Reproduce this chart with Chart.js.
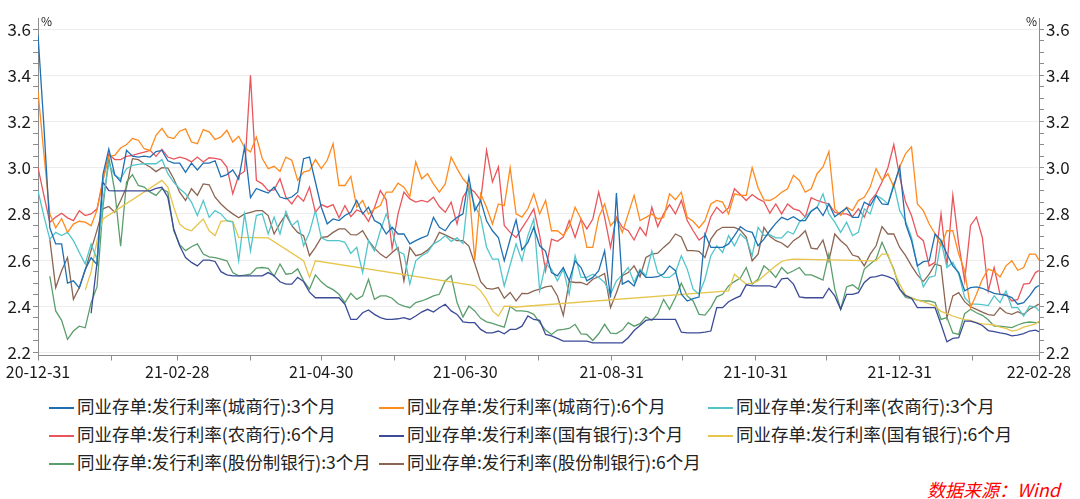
<!DOCTYPE html>
<html>
<head>
<meta charset="utf-8">
<script src="https://cdn.jsdelivr.net/npm/chart.js@4.4.1/dist/chart.umd.min.js"></script>
<style>
html, body { margin: 0; padding: 0; background: #fff; }
#wrap { position: relative; width: 1080px; height: 499px; font-family: "Noto Sans CJK SC", sans-serif; }
#chart-box { position: absolute; left: 0; top: 0; width: 1080px; height: 392px; }
.item { position: absolute; height: 22px; line-height: 22px; font-size: 17.5px; color: #222; white-space: nowrap; }
.item i { display: inline-block; width: 25px; height: 2px; vertical-align: middle; margin-right: 3px; }
#source { position: absolute; left: 927px; top: 477px; color: #f00; font-style: italic; font-size: 18px; line-height: 24px; }
</style>
</head>
<body>
<div id="wrap">
  <div id="chart-box"><canvas id="rateChart"></canvas></div>
  <div id="legend"></div>
  <div id="source">数据来源：Wind</div>
</div>
<script>
'use strict';

// day offsets from 2020-12-31
var days = [
    0, 2.5, 5, 7.5, 10, 12.5, 15, 17.5, 20, 22.5, 25, 27.5, 30, 32.5, 35, 37.5, 40, 42.5, 45, 47.5,
    50, 52.5, 55, 57.5, 60, 62.5, 65, 67.5, 70, 72.5, 75, 77.5, 80, 82.5, 85, 87.5, 90, 92.5, 95, 97.5,
    100, 102.5, 105, 107.5, 110, 112.5, 115, 117.5, 120, 122.5, 125, 127.5, 130, 132.5, 135, 137.5, 140, 142.5, 145, 147.5,
    150, 152.5, 155, 157.5, 160, 162.5, 165, 167.5, 170, 172.5, 175, 177.5, 180, 182.5, 185, 187.5, 190, 192.5, 195, 197.5,
    200, 202.5, 205, 207.5, 210, 212.5, 215, 217.5, 220, 222.5, 225, 227.5, 230, 232.5, 235, 237.5, 240, 242.5, 245, 247.5,
    250, 252.5, 255, 257.5, 260, 262.5, 265, 267.5, 270, 272.5, 275, 277.5, 280, 282.5, 285, 287.5, 290, 292.5, 295, 297.5,
    300, 302.5, 305, 307.5, 310, 312.5, 315, 317.5, 320, 322.5, 325, 327.5, 330, 332.5, 335, 337.5, 340, 342.5, 345, 347.5,
    350, 352.5, 355, 357.5, 360, 362.5, 365, 367.5, 370, 372.5, 375, 377.5, 380, 382.5, 385, 387.5, 390, 392.5, 395, 397.5,
    400, 402.5, 405, 407.5, 410, 412.5, 415, 417.5, 420, 422.5, 424];

var cityBank3M = [
    3.575, 3.18, 2.74, 2.67, 2.67, 2.50, 2.51, 2.48, 2.56, 2.61, 2.58, 2.97, 3.08, 2.97, 2.94, 3.075, 3.05, 3.046, 3.05, 3.046,
    3.07, 3.075, 3.03, 3.02, 3.02, 2.98, 3.02, 2.99, 3.02, 3.02, 3.03, 2.96, 2.97, 2.99, 2.95, 3.09, 2.87, 2.91, 2.90, 2.89,
    2.916, 2.873, 2.865, 2.873, 2.894, 3.039, 3.046, 2.938, 2.829, 2.757, 2.778, 2.771, 2.793, 2.807, 2.858, 2.80, 2.829, 2.771, 2.757, 2.713,
    2.742, 2.713, 2.713, 2.67, 2.684, 2.696, 2.706, 2.785, 2.742, 2.727, 2.764, 2.785, 2.80, 2.96, 2.814, 2.858, 2.77, 2.727, 2.698, 2.597,
    2.69, 2.774, 2.644, 2.677, 2.742, 2.662, 2.638, 2.546, 2.532, 2.568, 2.51, 2.597, 2.568, 2.51, 2.525, 2.554, 2.64, 2.438, 2.89, 2.496,
    2.51, 2.488, 2.554, 2.525, 2.525, 2.528, 2.54, 2.575, 2.554, 2.452, 2.423, 2.433, 2.44, 2.713, 2.655, 2.655, 2.655, 2.67, 2.706, 2.745,
    2.727, 2.72, 2.662, 2.691, 2.727, 2.759, 2.785, 2.774, 2.788, 2.771, 2.771, 2.811, 2.829, 2.793, 2.843, 2.788, 2.807, 2.826, 2.785, 2.785,
    2.851, 2.836, 2.88, 2.843, 2.84, 2.923, 3.003, 2.757, 2.684, 2.575, 2.593, 2.597, 2.713, 2.684, 2.626, 2.575, 2.546, 2.467, 2.481, 2.484,
    2.478, 2.467, 2.456, 2.452, 2.447, 2.438, 2.409, 2.416, 2.445, 2.481, 2.49];

var cityBank6M = [
    3.33, 3.06, 2.80, 2.74, 2.78, 2.72, 2.756, 2.768, 2.764, 2.749, 2.817, 2.945, 3.05, 3.053, 3.085, 3.10, 3.126, 3.119, 3.082, 3.075,
    3.14, 3.17, 3.133, 3.126, 3.158, 3.168, 3.111, 3.104, 3.165, 3.155, 3.122, 3.133, 3.162, 3.111, 3.136, 3.087, 3.068, 3.133, 3.04, 2.996,
    3.006, 2.984, 3.046, 3.032, 2.945, 2.981, 2.988, 3.035, 2.996, 3.032, 3.104, 2.923, 2.923, 2.962, 2.829, 2.858, 2.80, 2.822, 2.836, 2.894,
    2.894, 2.933, 2.916, 2.875, 3.025, 2.952, 2.974, 2.93, 2.894, 2.93, 3.046, 2.996, 2.952, 2.923, 2.60, 2.887, 2.829, 2.756, 2.843, 2.836,
    3.00, 2.80, 2.786, 2.822, 2.887, 2.80, 2.858, 2.727, 2.727, 2.706, 2.745, 2.829, 2.778, 2.655, 2.655, 2.785, 2.843, 2.749, 2.778, 2.72,
    2.80, 2.88, 2.771, 2.785, 2.80, 2.778, 2.785, 2.887, 2.861, 2.894, 2.785, 2.768, 2.739, 2.771, 2.843, 2.858, 2.851, 2.80, 2.887, 2.88,
    2.88, 3.00, 2.913, 2.861, 2.858, 2.872, 2.894, 2.909, 2.967, 2.945, 2.894, 2.909, 2.974, 3.003, 3.07, 2.822, 2.793, 2.829, 2.814, 2.858,
    2.872, 2.916, 2.996, 2.945, 2.974, 2.916, 3.003, 3.061, 3.09, 2.843, 2.814, 2.756, 2.713, 2.662, 2.727, 2.727, 2.626, 2.553, 2.394, 2.452,
    2.517, 2.561, 2.551, 2.527, 2.575, 2.597, 2.556, 2.568, 2.626, 2.626, 2.60];

var ruralBank3M = [
    2.90, 2.79, 2.691, 2.72, 2.706, 2.72, 2.684, 2.633, 2.583, 2.67, 2.604, 2.858, 3.017, 2.967, 2.952, 2.996, 3.01, 3.014, 3.017, 3.017,
    3.017, 3.035, 2.974, 2.937, 2.909, 2.887, 2.851, 2.793, 2.858, 2.785, 2.814, 2.80, 2.771, 2.764, 2.597, 2.80, 2.64, 2.793, 2.80, 2.713,
    2.786, 2.713, 2.811, 2.749, 2.771, 2.662, 2.72, 2.814, 2.696, 2.684, 2.684, 2.684, 2.677, 2.629, 2.655, 2.546, 2.684, 2.64, 2.727, 2.80,
    2.727, 2.638, 2.626, 2.496, 2.597, 2.619, 2.633, 2.67, 2.684, 2.706, 2.681, 2.696, 2.672, 2.916, 2.836, 2.786, 2.655, 2.604, 2.604, 2.488,
    2.58, 2.67, 2.597, 2.706, 2.778, 2.467, 2.583, 2.561, 2.51, 2.561, 2.452, 2.619, 2.525, 2.525, 2.539, 2.525, 2.503, 2.452, 2.51, 2.536,
    2.568, 2.503, 2.561, 2.532, 2.64, 2.546, 2.525, 2.525, 2.546, 2.619, 2.561, 2.474, 2.452, 2.517, 2.619, 2.662, 2.633, 2.706, 2.662, 2.713,
    2.69, 2.619, 2.742, 2.706, 2.71, 2.696, 2.696, 2.724, 2.713, 2.764, 2.786, 2.814, 2.829, 2.887, 2.80, 2.764, 2.72, 2.764, 2.706, 2.72,
    2.822, 2.80, 2.88, 2.865, 2.843, 2.93, 2.814, 2.768, 2.698, 2.575, 2.484, 2.525, 2.532, 2.684, 2.568, 2.59, 2.539, 2.438, 2.409, 2.409,
    2.407, 2.403, 2.445, 2.416, 2.467, 2.394, 2.394, 2.358, 2.401, 2.397, 2.38];

var ruralBank6M = [
    3.00, 2.88, 2.764, 2.786, 2.803, 2.783, 2.771, 2.814, 2.793, 2.80, 2.822, 2.945, 3.058, 3.035, 3.035, 3.049, 3.053, 3.061, 3.067, 3.075,
    3.049, 3.08, 3.046, 3.037, 3.046, 3.039, 3.025, 3.046, 3.025, 3.043, 3.04, 3.035, 3.003, 2.887, 2.967, 2.985, 3.40, 2.945, 2.93, 2.901,
    2.904, 2.952, 2.872, 2.843, 2.88, 2.855, 2.916, 2.807, 2.84, 2.829, 2.84, 2.783, 2.836, 2.788, 2.817, 2.807, 2.768, 2.826, 2.901, 2.861,
    2.65, 2.80, 2.894, 2.865, 2.851, 2.858, 2.851, 2.872, 2.832, 2.807, 2.851, 2.756, 2.872, 2.913, 2.894, 2.858, 3.075, 2.938, 3.003, 2.75,
    2.72, 2.698, 2.738, 2.778, 2.822, 2.706, 2.554, 2.691, 2.681, 2.70, 2.771, 2.698, 2.778, 2.735, 2.778, 2.894, 2.786, 2.655, 2.786, 2.742,
    2.727, 2.687, 2.742, 2.706, 2.829, 2.745, 2.80, 2.84, 2.80, 2.858, 2.771, 2.727, 2.687, 2.706, 2.788, 2.829, 2.803, 2.826, 2.909, 2.884,
    2.858, 2.884, 2.865, 2.853, 2.803, 2.843, 2.80, 2.843, 2.822, 2.814, 2.786, 2.87, 2.858, 2.85, 2.843, 2.807, 2.80, 2.80, 2.788, 2.822,
    2.786, 2.855, 2.887, 2.938, 3.00, 3.10, 2.96, 2.851, 2.793, 2.706, 2.684, 2.575, 2.59, 2.80, 2.575, 2.88, 2.67, 2.51, 2.75, 2.786,
    2.698, 2.467, 2.568, 2.452, 2.452, 2.423, 2.43, 2.496, 2.499, 2.546, 2.555];

var stateBank3M = [
    null, null, null, null, null, null, null, null, null, 2.37, 2.59, 2.938, 2.901, 2.90, 2.90, 2.90, 2.90, 2.90, 2.90, 2.90,
    2.91, 2.915, 2.872, 2.735, 2.662, 2.611, 2.59, 2.575, 2.60, 2.60, 2.594, 2.55, 2.536, 2.532, 2.532, 2.532, 2.532, 2.532, 2.532, 2.546,
    2.532, 2.506, 2.496, 2.496, 2.525, 2.507, 2.461, 2.437, 2.437, 2.437, 2.437, 2.437, 2.409, 2.343, 2.343, 2.372, 2.384, 2.365, 2.351, 2.343,
    2.343, 2.346, 2.351, 2.343, 2.358, 2.375, 2.387, 2.375, 2.394, 2.409, 2.38, 2.365, 2.333, 2.329, 2.329, 2.30, 2.285, 2.285, 2.293, 2.281,
    2.30, 2.30, 2.314, 2.358, 2.343, 2.339, 2.278, 2.272, 2.261, 2.249, 2.249, 2.249, 2.249, 2.249, 2.242, 2.242, 2.242, 2.242, 2.242, 2.242,
    2.264, 2.295, 2.317, 2.339, 2.343, 2.343, 2.343, 2.343, 2.343, 2.288, 2.285, 2.285, 2.285, 2.288, 2.293, 2.394, 2.394, 2.42, 2.433, 2.445,
    2.493, 2.488, 2.488, 2.488, 2.488, 2.481, 2.519, 2.522, 2.496, 2.441, 2.437, 2.437, 2.437, 2.437, 2.478, 2.445, 2.387, 2.452, 2.452, 2.459,
    2.503, 2.525, 2.528, 2.536, 2.528, 2.517, 2.474, 2.446, 2.435, 2.394, 2.394, 2.394, 2.394, 2.322, 2.246, 2.261, 2.264, 2.336, 2.336, 2.328,
    2.317, 2.295, 2.29, 2.285, 2.281, 2.272, 2.275, 2.282, 2.293, 2.297, 2.29];

// sparse series: gaps are bridged by straight lines as in the original
var stateBank6M = [
    null, null, null, null, null, null, null, null, 2.47, 2.55, 2.684, 2.778, null, null, null, null, null, null, null, null,
    null, 2.945, 2.916, 2.829, 2.756, 2.735, 2.727, 2.753, 2.778, 2.727, 2.706, 2.768, 2.771, 2.768, 2.698, null, null, null, null, 2.696,
    null, null, null, null, null, 2.597, 2.525, 2.597, null, null, null, null, null, null, null, null, null, null, null, null,
    null, null, null, null, null, null, null, null, null, null, null, null, null, null, 2.49, 2.467, 2.43, 2.38, 2.358, 2.401,
    2.40, 2.397, null, null, null, null, null, null, null, null, null, null, null, null, null, null, null, null, null, null,
    null, null, null, null, null, null, null, null, null, null, null, null, null, null, null, null, null, 2.467, 2.539, 2.517,
    2.496, 2.50, 2.51, 2.532, 2.554, 2.575, 2.594, 2.601, 2.604, null, null, null, null, null, null, null, null, null, null, null,
    null, null, 2.597, 2.626, 2.626, 2.554, 2.496, 2.449, 2.438, 2.427, 2.42, 2.41, 2.401, 2.378, 2.368, 2.358, 2.35, 2.342, 2.339, 2.329,
    2.324, 2.322, 2.319, 2.31, 2.304, 2.293, 2.298, 2.31, 2.316, 2.324, 2.335];

var jointBank3M = [
    null, null, 2.53, 2.38, 2.339, 2.257, 2.293, 2.314, 2.307, 2.416, 2.484, 2.829, 3.043, 2.90, 2.66, 2.938, 2.97, 2.923, 2.916, 2.894,
    2.88, 2.909, 2.894, 2.727, 2.667, 2.641, 2.658, 2.67, 2.626, 2.614, 2.611, 2.604, 2.597, 2.546, 2.532, 2.535, 2.539, 2.565, 2.568, 2.564,
    2.53, 2.583, 2.539, 2.542, 2.562, 2.51, 2.474, 2.536, 2.506, 2.485, 2.472, 2.452, 2.416, 2.456, 2.43, 2.445, 2.517, 2.43, 2.445, 2.445,
    2.435, 2.411, 2.401, 2.394, 2.416, 2.423, 2.433, 2.445, 2.452, 2.51, 2.532, 2.416, 2.354, 2.401, 2.38, 2.348, 2.333, 2.326, 2.317, 2.31,
    2.40, 2.38, 2.38, 2.377, 2.365, 2.329, 2.297, 2.278, 2.297, 2.30, 2.304, 2.322, 2.281, 2.278, 2.252, 2.281, 2.322, 2.284, 2.282, 2.297,
    2.329, 2.314, 2.325, 2.354, 2.339, 2.368, 2.43, 2.387, 2.438, 2.50, 2.445, 2.423, 2.365, 2.362, 2.394, 2.441, 2.452, 2.488, 2.507, 2.522,
    2.568, 2.496, 2.517, 2.575, 2.554, 2.525, 2.568, 2.542, 2.554, 2.568, 2.536, 2.536, 2.525, 2.513, 2.626, 2.474, 2.387, 2.484, 2.493, 2.474,
    2.561, 2.583, 2.604, 2.677, 2.619, 2.561, 2.474, 2.438, 2.433, 2.427, 2.423, 2.423, 2.416, 2.343, 2.351, 2.285, 2.278, 2.368, 2.387, 2.372,
    2.361, 2.342, 2.314, 2.314, 2.311, 2.308, 2.319, 2.328, 2.332, 2.329, 2.33];

var jointBank6M = [
    null, null, 2.69, 2.481, 2.554, 2.611, 2.43, 2.481, 2.556, 2.643, 2.73, 2.822, 2.832, 2.807, 2.858, 2.916, 3.039, 3.035, 3.017, 3.003,
    2.983, 3.0, 2.998, 2.952, 2.894, 2.858, 2.909, 2.88, 2.93, 2.926, 2.872, 2.843, 2.819, 2.80, 2.783, 2.80, 2.807, 2.814, 2.814, 2.793,
    2.713, 2.759, 2.797, 2.749, 2.72, 2.706, 2.619, 2.655, 2.698, 2.701, 2.72, 2.735, 2.735, 2.71, 2.709, 2.727, 2.684, 2.652, 2.626, 2.609,
    2.633, 2.655, 2.51, 2.655, 2.619, 2.626, 2.643, 2.67, 2.72, 2.709, 2.696, 2.684, 2.684, 2.661, 2.585, 2.507, 2.478, 2.474, 2.481, 2.435,
    2.46, 2.423, 2.456, 2.455, 2.467, 2.474, 2.484, 2.488, 2.445, 2.36, 2.507, 2.503, 2.503, 2.493, 2.517, 2.528, 2.542, 2.394, 2.459, 2.532,
    2.546, 2.575, 2.528, 2.611, 2.626, 2.63, 2.655, 2.677, 2.713, 2.70, 2.641, 2.641, 2.638, 2.611, 2.691, 2.727, 2.742, 2.742, 2.742, 2.73,
    2.70, 2.597, 2.626, 2.742, 2.703, 2.684, 2.674, 2.655, 2.684, 2.701, 2.727, 2.652, 2.648, 2.687, 2.597, 2.713, 2.684, 2.662, 2.622, 2.614,
    2.575, 2.626, 2.662, 2.745, 2.713, 2.713, 2.655, 2.619, 2.575, 2.536, 2.507, 2.539, 2.583, 2.575, 2.351, 2.445, 2.459, 2.42, 2.398, 2.387,
    2.375, 2.364, 2.361, 2.394, 2.372, 2.365, 2.377, 2.365, 2.387, 2.401, 2.41];

var seriesNames = [
    '同业存单:发行利率(城商行):3个月',
    '同业存单:发行利率(城商行):6个月',
    '同业存单:发行利率(农商行):3个月',
    '同业存单:发行利率(农商行):6个月',
    '同业存单:发行利率(国有银行):3个月',
    '同业存单:发行利率(国有银行):6个月',
    '同业存单:发行利率(股份制银行):3个月',
    '同业存单:发行利率(股份制银行):6个月'
];
var seriesValues = [cityBank3M, cityBank6M, ruralBank3M, ruralBank6M,
    stateBank3M, stateBank6M, jointBank3M, jointBank6M];
var seriesColors = ['#1f6fb2', '#ff8a1e', '#52c5ca', '#e8565c',
    '#3b4b98', '#e7c54c', '#5a9e6b', '#8b6552'];

// month ends (day offsets) and the dates printed under the axis
var monthEnds = [0, 31, 59, 90, 120, 151, 181, 212, 243, 273, 304, 334, 365, 396, 424];
var xTickLabels = {
    0: '20-12-31', 59: '21-02-28', 120: '21-04-30', 181: '21-06-30',
    243: '21-08-31', 304: '21-10-31', 365: '21-12-31', 424: '22-02-28'
};
var yMin = 2.187;
var yMax = 3.648;

Chart.defaults.font.family = '"Noto Sans CJK SC", sans-serif';
Chart.defaults.color = '#1a1a1a';

function isMajor (v) {
    return Math.abs(v * 5 - Math.round(v * 5)) < 1e-6;
}

function yTicks (scale) {
    var list = [];
    for (var i = 0; i <= 28; i++) {
        list.push({ value: Math.round((2.2 + i * 0.05) * 100) / 100 });
    }
    scale.ticks = list;
}

var datasets = seriesValues.map(function (vals, i) {
    return {
        label: seriesNames[i],
        data: vals.map(function (v, j) { return { x: days[j], y: v }; }),
        borderColor: seriesColors[i],
        backgroundColor: seriesColors[i],
        borderWidth: 1.3,
        pointRadius: 0,
        tension: 0,
        spanGaps: true
    };
});

var percentPlugin = {
    id: 'percentMarks',
    afterDraw: function (chart) {
        var c = chart.ctx;
        var a = chart.chartArea;
        c.save();
        c.fillStyle = '#1a1a1a';
        c.font = '12px "Noto Sans CJK SC", sans-serif';
        c.textBaseline = 'alphabetic';
        c.textAlign = 'left';
        c.fillText('%', a.left + 3, a.top + 8);
        c.textAlign = 'right';
        c.fillText('%', a.right - 2, a.top + 8);
        c.restore();
    }
};

var ctx = document.getElementById('rateChart').getContext('2d');
new Chart(ctx, {
    type: 'line',
    data: { datasets: datasets },
    plugins: [percentPlugin],
    options: {
        responsive: true,
        maintainAspectRatio: false,
        animation: false,
        layout: { padding: { top: 18, left: 0, right: 0, bottom: 0 } },
        plugins: { legend: { display: false }, tooltip: { enabled: false } },
        scales: {
            x: {
                type: 'linear',
                min: 0,
                max: 424,
                afterBuildTicks: function (scale) {
                    scale.ticks = monthEnds.map(function (d) { return { value: d }; });
                },
                afterFit: function (scale) { scale.height = 36.5; },
                ticks: {
                    autoSkip: false,
                    maxRotation: 0,
                    font: { size: 16 },
                    padding: 2,
                    callback: function (value) { return xTickLabels[value] || ''; }
                },
                grid: { drawOnChartArea: false, drawTicks: true, tickLength: 5, tickColor: '#8c8c8c' },
                border: { color: '#8c8c8c' }
            },
            y: {
                position: 'left',
                min: yMin,
                max: yMax,
                afterBuildTicks: yTicks,
                afterFit: function (scale) { scale.width = 38; },
                ticks: {
                    autoSkip: false,
                    font: { size: 17 },
                    padding: 2,
                    callback: function (value) { return isMajor(value) ? value.toFixed(1) : ''; }
                },
                grid: {
                    color: function (c) { return c.tick && isMajor(c.tick.value) ? '#ededed' : 'rgba(0,0,0,0)'; },
                    tickColor: '#8c8c8c',
                    tickLength: 5
                },
                border: { color: '#8c8c8c' }
            },
            y2: {
                position: 'right',
                min: yMin,
                max: yMax,
                afterBuildTicks: yTicks,
                afterFit: function (scale) { scale.width = 41; },
                ticks: {
                    autoSkip: false,
                    font: { size: 17 },
                    padding: 2,
                    callback: function (value) { return isMajor(value) ? value.toFixed(1) : ''; }
                },
                grid: { drawOnChartArea: false, tickColor: '#8c8c8c', tickLength: 5 },
                border: { color: '#8c8c8c' }
            }
        }
    }
});

// legend laid out in three fixed columns like the original
var legendBox = document.getElementById('legend');
var colX = [49, 379, 708];
var rowY = [395, 423, 451];
seriesNames.forEach(function (name, i) {
    var item = document.createElement('div');
    item.className = 'item';
    item.style.left = colX[i % 3] + 'px';
    item.style.top = rowY[Math.floor(i / 3)] + 'px';
    item.innerHTML = '<i style="background:' + seriesColors[i] + '"></i>' + name;
    legendBox.appendChild(item);
});
</script>
</body>
</html>
